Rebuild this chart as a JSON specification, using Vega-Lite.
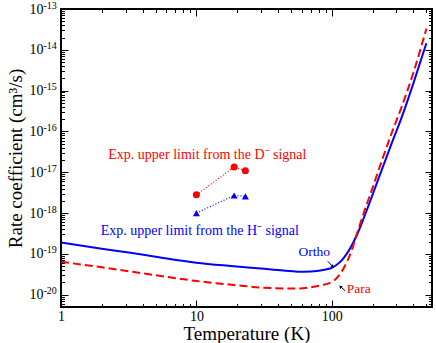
{
  "$schema": "https://vega.github.io/schema/vega-lite/v6.json",
  "width": 371,
  "height": 298,
  "autosize": {"type": "none"},
  "padding": {"left": 61, "top": 9, "right": 4, "bottom": 36},
  "config": {
    "view": {"stroke": "black", "strokeWidth": 2},
    "font": "Liberation Serif",
    "axis": {
      "domain": false, "grid": false, "tickColor": "black", "tickWidth": 1,
      "labelColor": "black", "titleColor": "black",
      "labelFont": "Liberation Serif", "titleFont": "Liberation Serif",
      "labelFontSize": 14, "titleFontSize": 19, "titleFontWeight": "normal",
      "labelFlush": false, "labelOverlap": false
    }
  },
  "datasets": {
    "ortho": [
      {"T": 1, "k": 1.9e-19}, {"T": 2, "k": 1.34e-19}, {"T": 3.16, "k": 1.08e-19}, {"T": 5, "k": 8.55e-20},
      {"T": 10, "k": 6.1e-20}, {"T": 17.2, "k": 5.1e-20}, {"T": 30, "k": 4.36e-20}, {"T": 44, "k": 3.9e-20},
      {"T": 62, "k": 3.63e-20}, {"T": 80.2, "k": 3.85e-20}, {"T": 91.9, "k": 4.19e-20}, {"T": 100, "k": 4.56e-20},
      {"T": 108.8, "k": 5.4e-20}, {"T": 118.4, "k": 6.94e-20}, {"T": 128.9, "k": 1.0e-19}, {"T": 140.3, "k": 1.61e-19},
      {"T": 152.7, "k": 2.82e-19}, {"T": 167, "k": 5.77e-19}, {"T": 180.9, "k": 1.15e-18},
      {"T": 198, "k": 2.57e-18}, {"T": 234, "k": 1.15e-17}, {"T": 277, "k": 5.1e-17}, {"T": 330, "k": 2.3e-16},
      {"T": 400, "k": 1.48e-15}, {"T": 500, "k": 1.45e-14}
    ],
    "para": [
      {"T": 1, "k": 6.4e-20}, {"T": 2, "k": 4.7e-20}, {"T": 5, "k": 3.0e-20}, {"T": 10, "k": 2.17e-20},
      {"T": 20, "k": 1.7e-20}, {"T": 30, "k": 1.5e-20}, {"T": 52.6, "k": 1.42e-20}, {"T": 70.1, "k": 1.52e-20},
      {"T": 84.4, "k": 1.71e-20}, {"T": 95, "k": 1.9e-20}, {"T": 104, "k": 2.22e-20}, {"T": 112, "k": 2.85e-20}, {"T": 120, "k": 3.95e-20},
      {"T": 128.9, "k": 6.21e-20}, {"T": 140.3, "k": 1.22e-19}, {"T": 152.7, "k": 2.99e-19}, {"T": 167, "k": 7.35e-19},
      {"T": 180.9, "k": 1.61e-18}, {"T": 198, "k": 3.74e-18},
      {"T": 234, "k": 1.9e-17}, {"T": 277, "k": 9.1e-17}, {"T": 330, "k": 4.2e-16}, {"T": 400, "k": 2.7e-15},
      {"T": 500, "k": 3.3e-14}
    ],
    "dsig": [{"T": 10, "k": 2.8e-18}, {"T": 19, "k": 1.34e-17}, {"T": 23, "k": 1.09e-17}],
    "hsig": [{"T": 10, "k": 1.0e-18}, {"T": 19, "k": 2.7e-18}, {"T": 23, "k": 2.57e-18}],
    "exps": [
      {"k": 1e-13, "e": "-13"}, {"k": 1e-14, "e": "-14"}, {"k": 1e-15, "e": "-15"}, {"k": 1e-16, "e": "-16"},
      {"k": 1e-17, "e": "-17"}, {"k": 1e-18, "e": "-18"}, {"k": 1e-19, "e": "-19"}, {"k": 1e-20, "e": "-20"}
    ]
  },
  "resolve": {"axis": {"x": "independent", "y": "independent"}},
  "layer": [
    {
      "data": {"name": "ortho"},
      "mark": {"type": "line", "color": "#0000ff", "strokeWidth": 2, "interpolate": "monotone"},
      "encoding": {
        "x": {"field": "T", "type": "quantitative",
          "scale": {"type": "log", "domain": [1, 550], "nice": false},
          "axis": {"orient": "bottom", "title": "Temperature (K)", "titleY": 32, "titleBaseline": "alphabetic",
            "values": [1,2,3,4,5,6,7,8,9,10,20,30,40,50,60,70,80,90,100,200,300,400,500],
            "labelExpr": "datum.value == 1 ? '1' : datum.value == 10 ? '10' : datum.value == 100 ? '100' : ''",
            "tickSize": {"condition": {"test": "datum.value == 1 || datum.value == 10 || datum.value == 100", "value": -7}, "value": -3.5},
            "labelPadding": 9}},
        "y": {"field": "k", "type": "quantitative",
          "scale": {"type": "log", "domain": [5e-21, 1e-13], "nice": false},
          "axis": {"orient": "left", "title": "Rate coefficient (cm³/s)", "titlePadding": 4,
            "values": [6e-21,7e-21,8e-21,9e-21,1e-20,2e-20,3e-20,4e-20,5e-20,6e-20,7e-20,8e-20,9e-20,1e-19,2e-19,3e-19,4e-19,5e-19,6e-19,7e-19,8e-19,9e-19,1e-18,2e-18,3e-18,4e-18,5e-18,6e-18,7e-18,8e-18,9e-18,1e-17,2e-17,3e-17,4e-17,5e-17,6e-17,7e-17,8e-17,9e-17,1e-16,2e-16,3e-16,4e-16,5e-16,6e-16,7e-16,8e-16,9e-16,1e-15,2e-15,3e-15,4e-15,5e-15,6e-15,7e-15,8e-15,9e-15,1e-14,2e-14,3e-14,4e-14,5e-14,6e-14,7e-14,8e-14,9e-14,1e-13],
            "labelExpr": "abs(log(datum.value)/LN10 - round(log(datum.value)/LN10)) < 0.001 ? '10' : ''",
            "tickSize": {"condition": {"test": "abs(log(datum.value)/LN10 - round(log(datum.value)/LN10)) < 0.001", "value": -7}, "value": -3.5},
            "labelPadding": 25}}
      }
    },
    {
      "data": {"name": "para"},
      "mark": {"type": "line", "color": "#ff0000", "strokeWidth": 2, "strokeDash": [8, 4], "interpolate": "monotone"},
      "encoding": {
        "x": {"field": "T", "type": "quantitative",
          "scale": {"type": "log", "domain": [1, 550], "nice": false},
          "axis": {"orient": "top", "title": null, "labels": false,
            "values": [1,2,3,4,5,6,7,8,9,10,20,30,40,50,60,70,80,90,100,200,300,400,500],
            "tickSize": {"condition": {"test": "datum.value == 1 || datum.value == 10 || datum.value == 100", "value": -7}, "value": -3.5}}},
        "y": {"field": "k", "type": "quantitative",
          "scale": {"type": "log", "domain": [5e-21, 1e-13], "nice": false},
          "axis": {"orient": "right", "title": null, "labels": false,
            "values": [6e-21,7e-21,8e-21,9e-21,1e-20,2e-20,3e-20,4e-20,5e-20,6e-20,7e-20,8e-20,9e-20,1e-19,2e-19,3e-19,4e-19,5e-19,6e-19,7e-19,8e-19,9e-19,1e-18,2e-18,3e-18,4e-18,5e-18,6e-18,7e-18,8e-18,9e-18,1e-17,2e-17,3e-17,4e-17,5e-17,6e-17,7e-17,8e-17,9e-17,1e-16,2e-16,3e-16,4e-16,5e-16,6e-16,7e-16,8e-16,9e-16,1e-15,2e-15,3e-15,4e-15,5e-15,6e-15,7e-15,8e-15,9e-15,1e-14,2e-14,3e-14,4e-14,5e-14,6e-14,7e-14,8e-14,9e-14,1e-13],
            "tickSize": {"condition": {"test": "abs(log(datum.value)/LN10 - round(log(datum.value)/LN10)) < 0.001", "value": -7}, "value": -3.5}}}
      }
    },
    {
      "data": {"name": "exps"},
      "mark": {"type": "text", "color": "black", "fontSize": 10, "font": "Liberation Serif", "align": "left", "baseline": "middle", "dx": -17.5, "dy": -3.5},
      "encoding": {
        "x": {"datum": 1, "type": "quantitative", "axis": null},
        "y": {"field": "k", "type": "quantitative", "axis": null},
        "text": {"field": "e"}
      }
    },
    {
      "data": {"name": "dsig"},
      "mark": {"type": "line", "color": "#ff0000", "strokeWidth": 1.2, "strokeDash": [1, 2]},
      "encoding": {
        "x": {"field": "T", "type": "quantitative", "axis": null},
        "y": {"field": "k", "type": "quantitative", "axis": null}
      }
    },
    {
      "data": {"name": "dsig"},
      "mark": {"type": "point", "shape": "circle", "filled": true, "color": "#ff0000", "size": 50, "opacity": 1},
      "encoding": {
        "x": {"field": "T", "type": "quantitative", "axis": null},
        "y": {"field": "k", "type": "quantitative", "axis": null}
      }
    },
    {
      "data": {"name": "hsig"},
      "mark": {"type": "line", "color": "#0000ff", "strokeWidth": 1.2, "strokeDash": [1, 2]},
      "encoding": {
        "x": {"field": "T", "type": "quantitative", "axis": null},
        "y": {"field": "k", "type": "quantitative", "axis": null}
      }
    },
    {
      "data": {"name": "hsig"},
      "mark": {"type": "point", "shape": "triangle-up", "filled": true, "color": "#0000ff", "size": 50, "opacity": 1},
      "encoding": {
        "x": {"field": "T", "type": "quantitative", "axis": null},
        "y": {"field": "k", "type": "quantitative", "axis": null}
      }
    },
    {
      "data": {"values": [{"T": 12.05, "k": 2.67e-17, "label": "Exp. upper limit from the D⁻ signal"}]},
      "mark": {"type": "text", "color": "#ff0000", "fontSize": 14, "font": "Liberation Serif", "align": "center", "baseline": "middle"},
      "encoding": {
        "x": {"field": "T", "type": "quantitative", "axis": null},
        "y": {"field": "k", "type": "quantitative", "axis": null},
        "text": {"field": "label"}
      }
    },
    {
      "data": {"values": [{"T": 10.6, "k": 3.74e-19, "label": "Exp. upper limit from the H⁻ signal"}]},
      "mark": {"type": "text", "color": "#0000ff", "fontSize": 14, "font": "Liberation Serif", "align": "center", "baseline": "middle"},
      "encoding": {
        "x": {"field": "T", "type": "quantitative", "axis": null},
        "y": {"field": "k", "type": "quantitative", "axis": null},
        "text": {"field": "label"}
      }
    },
    {
      "data": {"values": [{"T": 74.3, "k": 1.09e-19, "label": "Ortho"}]},
      "mark": {"type": "text", "color": "#0000ff", "fontSize": 13.5, "font": "Liberation Serif", "align": "center", "baseline": "middle"},
      "encoding": {
        "x": {"field": "T", "type": "quantitative", "axis": null},
        "y": {"field": "k", "type": "quantitative", "axis": null},
        "text": {"field": "label"}
      }
    },
    {
      "data": {"values": [{"T": 158, "k": 1.36e-20, "label": "Para"}]},
      "mark": {"type": "text", "color": "#ff0000", "fontSize": 13.5, "font": "Liberation Serif", "align": "center", "baseline": "middle"},
      "encoding": {
        "x": {"field": "T", "type": "quantitative", "axis": null},
        "y": {"field": "k", "type": "quantitative", "axis": null},
        "text": {"field": "label"}
      }
    },
    {
      "data": {"values": [{"T": 93.5, "k": 6.56e-20, "T2": 100.5, "k2": 5.1e-20}, {"T": 126, "k": 1.24e-20, "T2": 117.5, "k2": 1.52e-20}]},
      "mark": {"type": "rule", "color": "black", "strokeWidth": 1},
      "encoding": {
        "x": {"field": "T", "type": "quantitative", "axis": null},
        "y": {"field": "k", "type": "quantitative", "axis": null},
        "x2": {"field": "T2"},
        "y2": {"field": "k2"}
      }
    },
    {
      "data": {"values": [{"T": 101.7, "k": 4.95e-20}]},
      "mark": {"type": "point", "shape": "triangle-up", "filled": true, "color": "black", "size": 14, "angle": 135, "opacity": 1},
      "encoding": {
        "x": {"field": "T", "type": "quantitative", "axis": null},
        "y": {"field": "k", "type": "quantitative", "axis": null}
      }
    },
    {
      "data": {"values": [{"T": 115.9, "k": 1.58e-20}]},
      "mark": {"type": "point", "shape": "triangle-up", "filled": true, "color": "black", "size": 14, "angle": 315, "opacity": 1},
      "encoding": {
        "x": {"field": "T", "type": "quantitative", "axis": null},
        "y": {"field": "k", "type": "quantitative", "axis": null}
      }
    }
  ]
}
